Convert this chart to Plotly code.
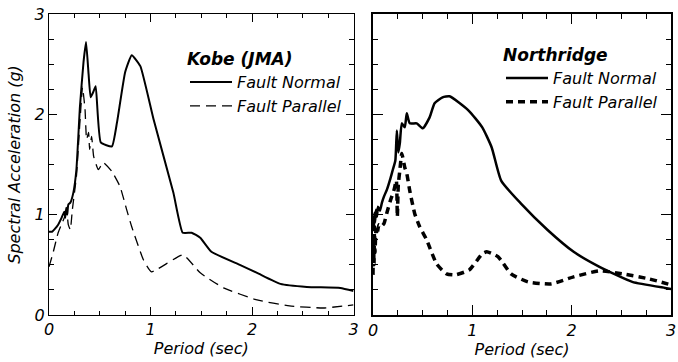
import plotly.graph_objects as go

# ---- Data (Period in sec, Spectral Acceleration in g) ----
kobe_fn_T = [0.00, 0.03, 0.06, 0.09, 0.12, 0.15, 0.16, 0.17, 0.18, 0.19, 0.21, 0.24, 0.27, 0.305, 0.34, 0.365,
             0.39, 0.41, 0.435, 0.46, 0.51, 0.62, 0.67, 0.75, 0.815, 0.90, 1.03, 1.225, 1.317, 1.405, 1.49,
             1.60, 1.88, 2.05, 2.28, 2.54, 2.87, 3.00]
kobe_fn_SA = [0.83, 0.83, 0.86, 0.90, 0.96, 1.03, 0.97, 1.07, 1.00, 1.10, 1.12, 1.22, 1.45, 2.08, 2.52, 2.72,
              2.40, 2.17, 2.22, 2.28, 1.72, 1.68, 1.92, 2.42, 2.59, 2.48, 1.95, 1.22, 0.82, 0.82, 0.77,
              0.63, 0.50, 0.42, 0.31, 0.28, 0.27, 0.24]

kobe_fp_T = [0.00, 0.04, 0.09, 0.13, 0.175, 0.19, 0.21, 0.23, 0.27, 0.30, 0.33, 0.355, 0.37, 0.39, 0.40,
             0.42, 0.44, 0.486, 0.535, 0.62, 0.70, 0.765, 0.815, 0.93, 1.01, 1.32, 1.49, 1.72, 2.05, 2.37,
             2.70, 3.00]
kobe_fp_SA = [0.48, 0.62, 0.82, 0.92, 1.02, 0.90, 0.85, 1.05, 1.38, 1.85, 2.27, 2.05, 1.75, 1.82, 1.65,
              1.78, 1.58, 1.45, 1.52, 1.43, 1.28, 1.05, 0.88, 0.55, 0.43, 0.60, 0.42, 0.27, 0.15, 0.09,
              0.07, 0.10]

nr_fn_T = [0.00, 0.005, 0.01, 0.015, 0.02, 0.03, 0.04, 0.05, 0.07, 0.09, 0.11, 0.14, 0.175, 0.20, 0.225,
           0.24, 0.255, 0.27, 0.29, 0.32, 0.34, 0.37, 0.44, 0.50, 0.57, 0.62, 0.70, 0.77, 0.96, 1.10,
           1.195, 1.29, 1.49, 1.755, 2.02, 2.28, 2.61, 2.94, 3.00]
nr_fn_SA = [0.85, 0.98, 0.88, 1.02, 0.92, 1.05, 0.98, 1.08, 1.04, 1.12, 1.18, 1.25, 1.36, 1.45, 1.54,
            1.84, 1.62, 1.71, 1.91, 1.87, 2.01, 1.91, 1.91, 1.86, 1.97, 2.11, 2.17, 2.18, 2.04, 1.87,
            1.67, 1.34, 1.11, 0.85, 0.63, 0.48, 0.33, 0.27, 0.26]

nr_fp_T = [0.00, 0.005, 0.01, 0.015, 0.02, 0.03, 0.04, 0.06, 0.08, 0.11, 0.14, 0.175, 0.21, 0.235, 0.245,
           0.255, 0.27, 0.29, 0.32, 0.34, 0.37, 0.42, 0.47, 0.54, 0.64, 0.74, 0.83, 0.97, 1.10, 1.145,
           1.26, 1.39, 1.56, 1.79, 2.02, 2.28, 2.51, 2.78, 3.00]
nr_fp_SA = [0.40, 0.75, 0.50, 0.88, 0.62, 0.85, 0.80, 0.90, 0.88, 0.91, 1.02, 1.14, 1.24, 1.34, 0.98,
            1.30, 1.44, 1.61, 1.47, 1.41, 1.24, 1.01, 0.88, 0.75, 0.51, 0.41, 0.40, 0.45, 0.61, 0.63,
            0.58, 0.41, 0.33, 0.31, 0.38, 0.44, 0.41, 0.36, 0.30]

FONT = "DejaVu Sans"

fig = go.Figure()
fig.add_trace(go.Scatter(x=kobe_fn_T, y=kobe_fn_SA, mode="lines", name="Fault Normal",
                         line=dict(color="black", width=2, shape="spline", smoothing=0.4),
                         xaxis="x", yaxis="y", legend="legend"))
fig.add_trace(go.Scatter(x=kobe_fp_T, y=kobe_fp_SA, mode="lines", name="Fault Parallel",
                         line=dict(color="black", width=1.3, dash="10px,6px", shape="spline", smoothing=0.4),
                         xaxis="x", yaxis="y", legend="legend"))
fig.add_trace(go.Scatter(x=nr_fn_T, y=nr_fn_SA, mode="lines", name="Fault Normal",
                         line=dict(color="black", width=2.5, shape="spline", smoothing=0.5),
                         xaxis="x2", yaxis="y2", legend="legend2"))
fig.add_trace(go.Scatter(x=nr_fp_T, y=nr_fp_SA, mode="lines", name="Fault Parallel",
                         line=dict(color="black", width=3.5, dash="7px,5px", shape="spline", smoothing=0.5),
                         xaxis="x2", yaxis="y2", legend="legend2"))

ydom = [1 - 315 / 362, 1 - 14 / 362]
tickfont = dict(family=FONT, size=16, style="italic", color="black")
titlefont = dict(family=FONT, size=16, style="italic", color="black")


def xax(domain, anchor, lw, mlen, mnlen):
    return dict(domain=domain, anchor=anchor, range=[0, 3], tickmode="linear", tick0=0, dtick=1,
                ticks="inside", ticklen=mlen, tickwidth=1, tickcolor="black",
                showline=True, linecolor="black", linewidth=lw, mirror="ticks", showgrid=False,
                zeroline=False, tickfont=tickfont, automargin=False, ticklabeloverflow="allow",
                minor=dict(tick0=0, dtick=0.25, ticks="inside", ticklen=mnlen, tickcolor="black",
                           tickwidth=1, showgrid=False),
                title=dict(text="Period (sec)", font=titlefont, standoff=2))


def yax(domain, anchor, lw, mlen, mnlen, labels):
    return dict(domain=domain, anchor=anchor, range=[0, 3], tickmode="linear", tick0=0, dtick=1,
                ticks="inside", ticklen=mlen, tickwidth=1, tickcolor="black",
                showline=True, linecolor="black", linewidth=lw, mirror="ticks", showgrid=False,
                zeroline=False, tickfont=tickfont, showticklabels=labels, automargin=False,
                minor=dict(tick0=0, dtick=0.25, ticks="inside", ticklen=mnlen, tickcolor="black",
                           tickwidth=1, showgrid=False))


yaxis1 = yax(ydom, "x", 1, 8, 5, True)
yaxis1["title"] = dict(text="Spectral Acceleration (g)", font=titlefont, standoff=10)

fig.update_layout(
    width=678, height=362, margin=dict(l=0, r=0, t=0, b=0),
    paper_bgcolor="white", plot_bgcolor="white",
    font=dict(family=FONT, size=16, color="black", style="italic"),
    xaxis=xax([49 / 678, 353.5 / 678], "y", 1, 8, 4),
    yaxis=yaxis1,
    xaxis2=xax([373 / 678, 671 / 678], "y2", 2, 10, 5),
    yaxis2=yax(ydom, "x2", 2, 10, 5, False),
    legend=dict(x=185 / 678, y=1 - 43 / 362, xanchor="left", yanchor="top",
                bgcolor="rgba(0,0,0,0)", tracegroupgap=0, itemwidth=42,
                title=dict(text="Kobe (JMA)", font=dict(family=FONT, size=17, weight="bold", style="italic")),
                font=dict(family=FONT, size=16, style="italic")),
    legend2=dict(x=501 / 678, y=1 - 39 / 362, xanchor="left", yanchor="top",
                 bgcolor="rgba(0,0,0,0)", tracegroupgap=0, itemwidth=42,
                 title=dict(text="Northridge", font=dict(family=FONT, size=17, weight="bold", style="italic")),
                 font=dict(family=FONT, size=16, style="italic")),
    showlegend=True,
)

fig.write_html("out.html")
